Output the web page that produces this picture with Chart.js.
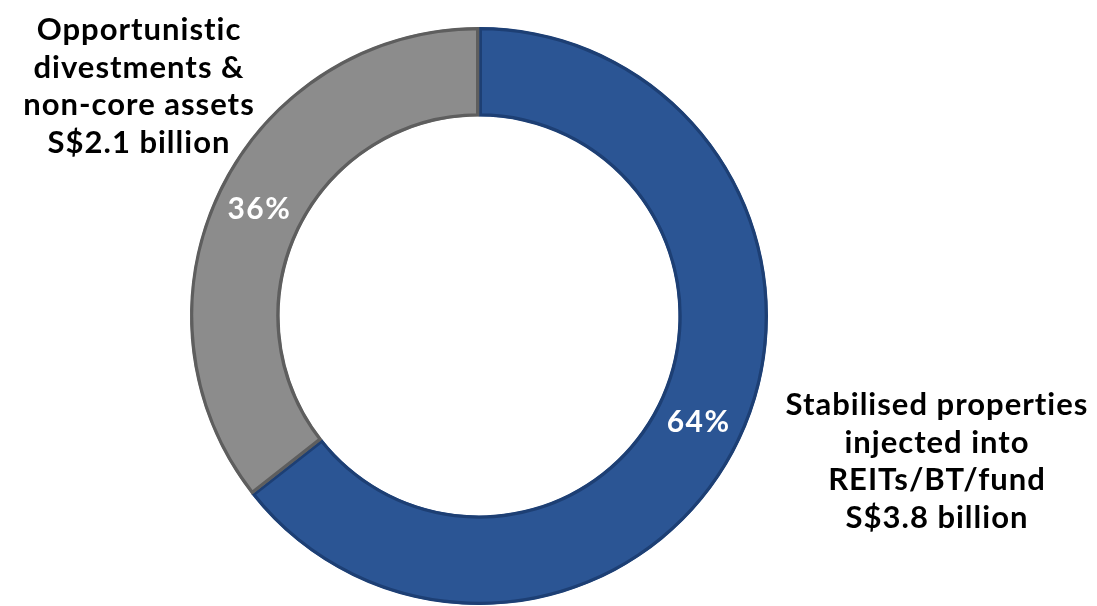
<!DOCTYPE html>
<html>
<head>
<meta charset="utf-8">
<script src="https://cdn.jsdelivr.net/npm/chart.js@4.4.1/dist/chart.umd.min.js"></script>
<style>
html,body{margin:0;padding:0;background:#fff;}
#wrap{width:1097px;height:606px;position:relative;}
</style>
</head>
<body>
<div id="wrap"><canvas id="c" width="1097" height="606"></canvas></div>
<script>
const categories = [
  ["Stabilised properties", "injected into", "REITs/BT/fund", "S$3.8 billion"],
  ["Opportunistic", "divestments &", "non-core assets", "S$2.1 billion"]
];
const values = [3.8, 2.1];
const percentLabels = ["64%", "36%"];
const fillColors = ["#2b5594", "#8c8c8c"];
const edgeColors = ["#1d3f74", "#5e5e5e"];

const FONT = "'Lato', 'Open Sans', sans-serif";

const labelPlugin = {
  id: 'labels',
  afterDatasetsDraw(chart) {
    const ctx = chart.ctx;
    const meta = chart.getDatasetMeta(0);
    ctx.save();
    ctx.textAlign = 'center';
    ctx.textBaseline = 'middle';
    // percentage labels at slice centers
    ctx.fillStyle = '#ffffff';
    ctx.font = `bold 30px ${FONT}`;
    ctx.letterSpacing = '1.5px';
    meta.data.forEach((arc, i) => {
      const p = arc.tooltipPosition();
      ctx.fillText(percentLabels[i], p.x, p.y);
    });
    // category labels
    ctx.fillStyle = '#000000';
    ctx.font = `bold 31px ${FONT}`;
    ctx.letterSpacing = '1px';
    const anchors = [{x: 139, y: 30}, ];
    const pos = [{x: 937, y: 405}, {x: 139, y: 30}];
    categories.forEach((lines, i) => {
      lines.forEach((t, j) => {
        ctx.fillText(t, pos[i].x, pos[i].y + j * 37.5);
      });
    });
    ctx.restore();
  }
};

new Chart(document.getElementById('c'), {
  type: 'doughnut',
  data: {
    labels: categories.map(l => l.join(' ')),
    datasets: [{
      data: values,
      backgroundColor: fillColors,
      borderColor: edgeColors,
      borderWidth: 3,
      borderAlign: 'inner',
      hoverOffset: 0
    }]
  },
  options: {
    responsive: false,
    animation: false,
    cutout: '69%',
    rotation: 0,
    layout: { padding: { left: 0, right: 139, top: 27, bottom: 1 } },
    plugins: {
      legend: { display: false },
      tooltip: { enabled: false }
    }
  },
  plugins: [labelPlugin]
});
</script>
</body>
</html>
